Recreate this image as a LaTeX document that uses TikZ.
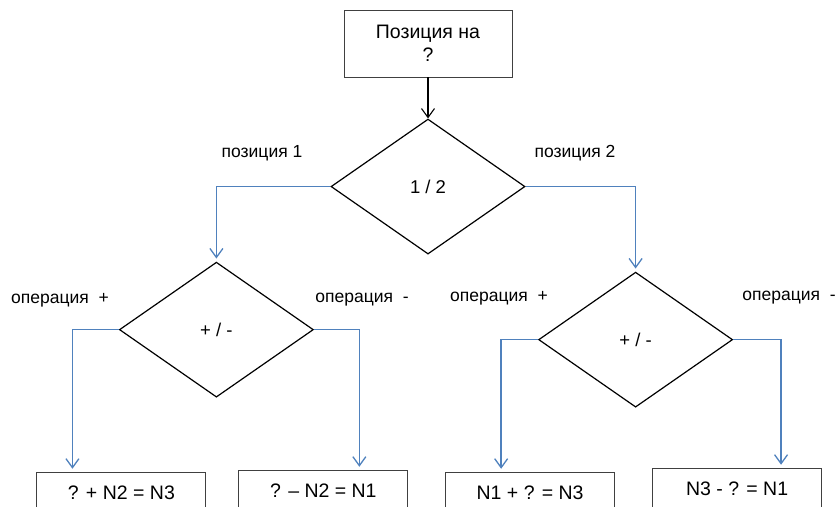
\documentclass[tikz,border=0pt]{standalone}
\usepackage{fontspec}
\setmainfont{Liberation Sans}
\usepackage{xcolor}
\usetikzlibrary{arrows.meta,positioning,shapes.geometric}

\definecolor{lineblue}{RGB}{79,129,189}

\begin{document}
\begin{tikzpicture}[x=1pt, y=-1pt,
    box/.style={draw=black!75, line width=0.9pt, rectangle, align=center, minimum width=169pt, minimum height=41pt, inner sep=0pt, font=\fontsize{19.5}{23}\selectfont},
    decision/.style={draw, line width=1.2pt, diamond, minimum width=194pt, minimum height=135pt, inner sep=0pt, font=\fontsize{18.5}{22}\selectfont},
    lbl/.style={inner sep=0pt, font=\fontsize{17.5}{20}\selectfont},
    flow/.style={draw=lineblue, line width=1.5pt, -{Straight Barb[length=9pt, width=13pt, line width=1.3pt]}, shorten >=3pt}]
  \useasboundingbox (0,0) rectangle (837,506);
  \clip (0,0) rectangle (837,506);

  \node[box, minimum width=168pt, minimum height=67pt] (pos) at (428,43.5) {Позиция на\\?};
  \node[decision] (choice) [below=41pt of pos] {1 / 2};
  \node[decision] (opleft) [below=75pt of choice.west, xshift=-114pt] {+ / -};
  \node[decision] (opright) [below=85pt of choice.east, xshift=110pt] {+ / -};

  \node[box] (res1) [below=74pt of opleft.south, xshift=-95pt] {? + N2 = N3};
  \node[box] (res2) [below=72pt of opleft.south, xshift=107pt] {? – N2 = N1};
  \node[box] (res3) [below=64pt of opright.south, xshift=-105.5pt] {N1 + ? = N3};
  \node[box] (res4) [below=60pt of opright.south, xshift=101.5pt] {N3 - ? = N1};

  \node[lbl] (pos1) at (262,153) {позиция 1};
  \node[lbl] (pos2) at (575,153) {позиция 2};
  \node[lbl] (plus1) at (60,300) {операция\ \ +};
  \node[lbl] (minus1) at (362,300) {операция\ \ -};
  \node[lbl] (plus2) at (499,298) {операция\ \ +};
  \node[lbl] (minus2) at (789,298) {операция\ \ -};

  \draw[line width=1.1pt, -{Straight Barb[length=9pt, width=13pt, line width=1.1pt]}] (pos) -- (choice);
  \draw[flow] (choice.west) -| (opleft.north);
  \draw[flow] (choice.east) -| (opright.north);
  \draw[flow] (opleft.west) -| ([xshift=36pt]res1.north west);
  \draw[flow] (opleft.east) -| ([xshift=-49pt]res2.north east);
  \draw[flow] (opright.west) -| ([xshift=56pt]res3.north west);
  \draw[flow] (opright.east) -| ([xshift=-41pt]res4.north east);
\end{tikzpicture}
\end{document}
